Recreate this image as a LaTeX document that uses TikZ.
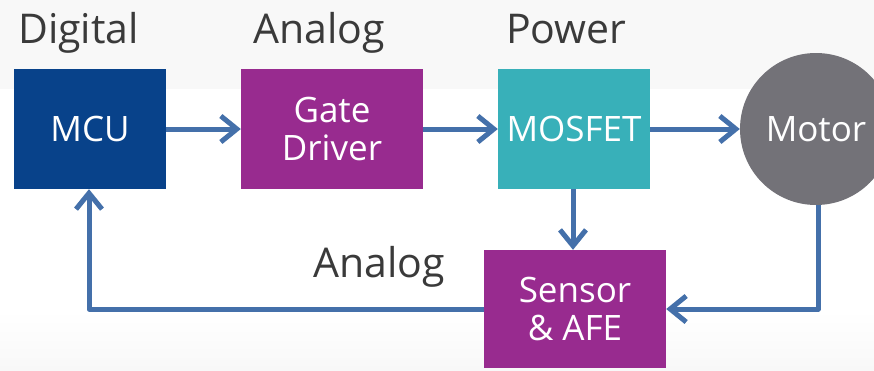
\documentclass[tikz,border=0pt]{standalone}
\usepackage{fontspec}
\setmainfont{Open Sans}
\usetikzlibrary{arrows.meta}
\definecolor{mcublue}{HTML}{08428A}
\definecolor{purp}{HTML}{982B8F}
\definecolor{teal2}{HTML}{38B0B9}
\definecolor{motorgray}{HTML}{737278}
\definecolor{arrowblue}{HTML}{4470AA}
\definecolor{labelgray}{HTML}{3A3A3A}
\definecolor{bgtop}{HTML}{F8F8F8}
\tikzset{
  blk/.style={draw=none, inner sep=0pt, text=white, align=center, font=\fontsize{35}{38}\selectfont},
  lbl/.style={text=labelgray, inner sep=0pt, anchor=base west, font=\fontsize{41}{44}\selectfont},
  conn/.style={draw=arrowblue, line width=5pt, line join=round, -{Straight Barb[length=16pt,width=26pt,line width=5pt]}},
  plain/.style={draw=arrowblue, line width=5pt, line join=round}
}
\begin{document}
\begin{tikzpicture}[x=1pt,y=-1pt]
\useasboundingbox (0,0) rectangle (874,370);
\fill[white] (0,0) rectangle (874,370);
\shade[top color=bgtop, bottom color=bgtop] (0,0) rectangle (874,88);
\shade[top color=white, bottom color=bgtop] (0,310) rectangle (874,370);
% labels
\node[lbl] (ldig) at (18,43) {Digital};
\node[lbl] (lan1) at (253,43) {Analog};
\node[lbl] (lpow) at (506,43) {Power};
\node[lbl] (lan2) at (313,277) {Analog};
% blocks
\node[blk, fill=mcublue, minimum width=152pt, minimum height=120pt] (mcu) at (90,129) {MCU};
\node[blk, fill=purp, minimum width=182pt, minimum height=120pt] (gate) at (332,129) {Gate\\Driver};
\node[blk, fill=teal2, minimum width=152pt, minimum height=120pt] (mos) at (574,129) {MOSFET};
\node[blk, fill=motorgray, circle, minimum size=152pt] (motor) at (816,129) {Motor};
\node[blk, fill=purp, minimum width=182pt, minimum height=118pt] (sens) at (575,309) {Sensor\\\&~AFE};
% connectors
\coordinate (mr) at (818,309);
\coordinate (ml) at (89,309);
\draw[conn] (mcu.east) -- (gate.west);
\draw[conn] (gate.east) -- (mos.west);
\draw[conn] (mos.east) -- (motor.west);
\draw[conn] (mos.south -| 573,0) -- (sens.north -| 573,0);
\draw[conn] (motor.south -| mr) -- (mr) -- (sens.east);
\draw[conn] (sens.west) -- (ml) -- (mcu.south -| ml);
\end{tikzpicture}
\end{document}
